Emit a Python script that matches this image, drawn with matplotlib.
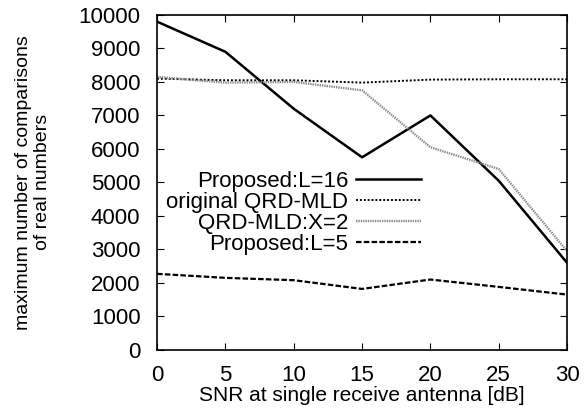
import numpy as np
import matplotlib
matplotlib.use("Agg")
import matplotlib.pyplot as plt

plt.rcParams['font.family'] = ['Liberation Sans', 'DejaVu Sans']

# SNR [dB]
snr = [0, 5, 10, 15, 20, 25, 30]

# maximum number of comparisons
proposed_l16 = [9800, 8900, 7200, 5750, 7000, 5050, 2600]
original_qrd = [8100, 8050, 8050, 7980, 8070, 8080, 8080]
qrd_x2 = [8150, 7980, 8000, 7750, 6050, 5400, 2950]
proposed_l5 = [2270, 2150, 2080, 1820, 2100, 1880, 1650]

fig = plt.figure(figsize=(5.84, 4.16), dpi=100)
ax = fig.add_axes([0.269, 0.159, 0.702, 0.805])

ax.plot(snr, proposed_l16, color="black", lw=1.8, ls="-", label="Proposed:L=16")
ax.plot(snr, original_qrd, color="black", lw=1.4, ls=(0, (1, 1)), label="original QRD-MLD")
ax.plot(snr, qrd_x2, color="#8c8c8c", lw=1.7, ls=(0, (0.6, 0.4)), label="QRD-MLD:X=2")
ax.plot(snr, proposed_l5, color="black", lw=1.6, ls=(0, (2.5, 1)), label="Proposed:L=5")

ax.set_xlim(0, 30)
ax.set_ylim(0, 10000)
ax.set_xticks(range(0, 31, 5))
ax.set_yticks(range(0, 10001, 1000))
ax.tick_params(direction="in", top=True, right=True, labelsize=16, length=5)
ax.tick_params(axis="y", pad=12)
ax.tick_params(axis="x", pad=11)
for s in ax.spines.values():
    s.set_linewidth(1.2)

ax.set_xlabel("SNR at single receive antenna [dB]", fontsize=15, labelpad=0)
ax.set_ylabel("maximum number of comparisons\nof real numbers", fontsize=14,
              labelpad=20, linespacing=1.15)

ax.legend(loc="upper right", bbox_to_anchor=(0.643, 0.535), frameon=False, fontsize=16,
          markerfirst=False, handlelength=2.9, handletextpad=0.35, labelspacing=0.0,
          borderaxespad=0.0, borderpad=0.0)

fig.savefig("out.png", dpi=100)
